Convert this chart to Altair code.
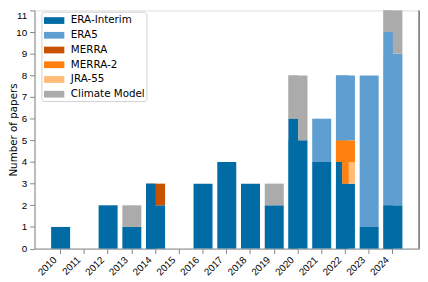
import altair as alt
import pandas as pd

years = [str(y) for y in range(2010, 2025)]
series = ["ERA-Interim", "ERA5", "MERRA", "MERRA-2", "JRA-55", "Climate Model"]
colors = ["#006BA4", "#5F9ED1", "#C85200", "#FF800E", "#FFBC79", "#ABABAB"]
stack_rank = {"ERA-Interim": 0, "MERRA": 1, "JRA-55": 2, "MERRA-2": 3, "ERA5": 4, "Climate Model": 5}

# full-width bars (one per year)
base_years = ["2010", "2012", "2013", "2014", "2016", "2017", "2018", "2019", "2020", "2021", "2022", "2023", "2024"]
base_era_interim = [1, 2, 1, 2, 3, 4, 3, 2, 5, 4, 3, 1, 2]
base_merra = [0, 0, 0, 1, 0, 0, 0, 0, 0, 0, 0, 0, 0]
base_jra55 = [0, 0, 0, 0, 0, 0, 0, 0, 0, 0, 1, 0, 0]
base_merra2 = [0, 0, 0, 0, 0, 0, 0, 0, 0, 0, 1, 0, 0]
base_era5 = [0, 0, 0, 0, 0, 0, 0, 0, 0, 2, 3, 7, 7]
base_climate = [0, 0, 1, 0, 0, 0, 0, 1, 3, 0, 0, 0, 2]

# narrower bars drawn over the left half of some years
half_years = ["2014", "2020", "2024"]
half_era_interim = [3, 6, 2]
half_era5 = [0, 0, 8]
half_climate = [0, 2, 1]

# narrower bars drawn over the first and second thirds of 2022
third_years = ["2022", "2022"]
third_parts = ["A", "B"]
third_era_interim = [4, 3]
third_merra2 = [1, 2]
third_era5 = [3, 3]


def records(yrs, cols, extra=None):
    out = []
    for i, yr in enumerate(yrs):
        for name, vals in cols:
            if vals[i] > 0:
                r = {"year": yr, "series": name, "count": vals[i], "rank": stack_rank[name]}
                if extra:
                    r.update({k: v[i] for k, v in extra.items()})
                out.append(r)
    return pd.DataFrame(out)


base_df = records(base_years, [("ERA-Interim", base_era_interim), ("MERRA", base_merra),
                               ("JRA-55", base_jra55), ("MERRA-2", base_merra2),
                               ("ERA5", base_era5), ("Climate Model", base_climate)])
half_df = records(half_years, [("ERA-Interim", half_era_interim), ("ERA5", half_era5),
                               ("Climate Model", half_climate)],
                  {"half": ["L"] * len(half_years)})
third_df = records(third_years, [("ERA-Interim", third_era_interim), ("MERRA-2", third_merra2),
                                 ("ERA5", third_era5)], {"third": third_parts})

W, H = 391.5, 242.5
FONT = "DejaVu Sans"

xscale = alt.Scale(domain=years, paddingInner=0.2, paddingOuter=0.7)
yscale = alt.Scale(domain=[0, 11], nice=False)
cscale = alt.Scale(domain=series, range=colors)

xaxis = alt.Axis(title=None, labelAngle=-45, labelAlign="right", labelBaseline="top",
                 labelOffset=-9, labelPadding=1)
yaxis = alt.Axis(title="Number of papers", values=list(range(0, 12)), grid=False,
                 titleX=-21.5, titleBaseline="middle", titleFontWeight="normal",
                 titleFontSize=10.5, titleColor="black", titleFont=FONT, labelPadding=3,
                 labelBaseline={"condition": {"test": "datum.value == 11", "value": "top"}, "value": "middle"})

legend = alt.Legend(orient="none", legendX=7, legendY=1.3, title=None,
                    fillColor="rgba(255,255,255,0.8)", strokeColor="#d0d0d0", cornerRadius=3,
                    padding=1.5, symbolOffset=4, symbolType="M-1.39,-0.46H1.39V0.46H-1.39Z", symbolSize=222,
                    symbolStrokeWidth=0, symbolOpacity=1, labelFontSize=10.5, labelFont=FONT,
                    labelColor="black", labelOffset=9.5, rowPadding=2.0)


def stacked(df, groupby):
    return alt.Chart(df).transform_stack(
        stack="count", as_=["y0", "y1"], groupby=groupby, sort=[alt.SortField("rank")]
    )


enc = dict(
    x=alt.X("year:N", scale=xscale, axis=xaxis),
    y=alt.Y("y0:Q", scale=yscale, axis=yaxis),
    y2="y1:Q",
    color=alt.Color("series:N", scale=cscale, legend=legend),
)

base_layer = stacked(base_df, ["year"]).mark_bar().encode(**enc)
half_layer = stacked(half_df, ["year", "half"]).mark_bar().encode(
    xOffset=alt.XOffset("half:N", scale=alt.Scale(domain=["L", "R"], paddingInner=0, paddingOuter=0)),
    **enc)
third_layer = stacked(third_df, ["year", "third"]).mark_bar().encode(
    xOffset=alt.XOffset("third:N", scale=alt.Scale(domain=["A", "B", "C"], paddingInner=0, paddingOuter=0)),
    **enc)

right_spine = alt.Chart(alt.Data(values=[{"a": 1}])).mark_rule(color="black", strokeWidth=0.8).encode(
    x=alt.value(W), y=alt.value(0), y2=alt.value(H)
)

chart = alt.layer(base_layer, half_layer, third_layer, right_spine).resolve_scale(
    xOffset="independent"
).properties(
    width=W, height=H,
    autosize=alt.AutoSizeParams(type="none"),
    padding={"left": 27, "top": 0, "right": 1, "bottom": 30},
).configure_view(stroke=None).configure_axis(
    domainColor="black", domainWidth=0.8, tickColor="black", tickWidth=0.8, tickSize=3.5,
    labelColor="black", labelFont=FONT, labelFontSize=10.5,
).configure(background="white")

chart.save("out.html", embed_options={"renderer": "svg", "actions": False})
